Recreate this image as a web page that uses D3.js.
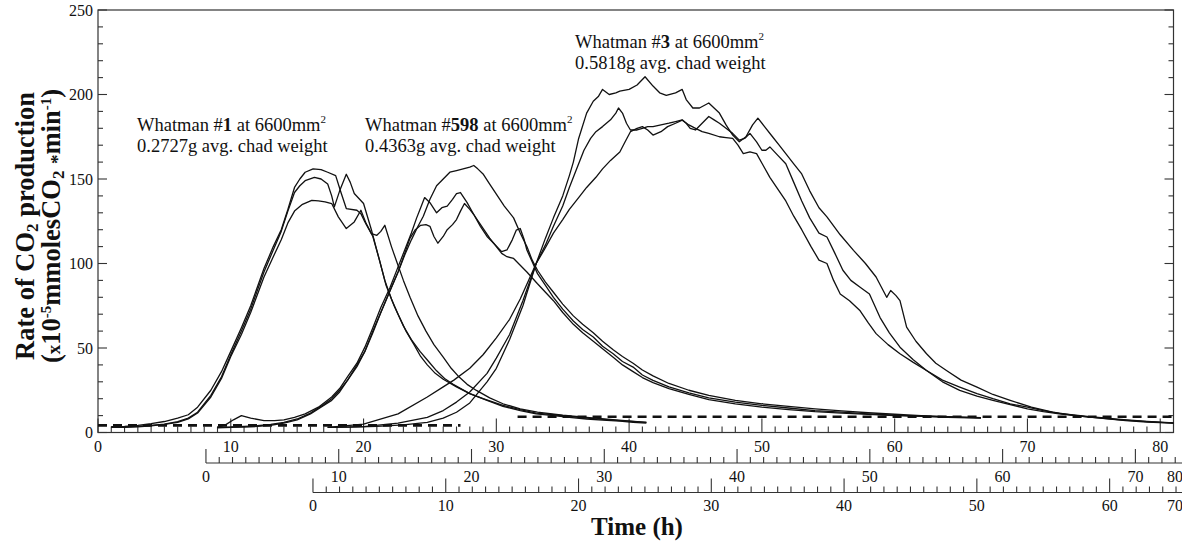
<!DOCTYPE html>
<html><head><meta charset="utf-8">
<script src="https://cdn.jsdelivr.net/npm/d3@7"></script>
<style>
body{margin:0;background:#fff}
svg{display:block}
text{font-family:"Liberation Serif","Times New Roman",serif;fill:#111}
</style>
</head><body><svg id="c" width="1182" height="545"></svg>
<script>
// ---- data: [time on top axis (h), CO2 rate] ----
const w1a = [[1.0,3.5],[2,3.6],[3,4.2],[4,5.2],[5,6.5],[6,8.5],[6.8,10.5],[7.5,15],[8.5,25],[9.3,36],[10,48],[10.8,62],[11.5,75],[12.5,97],[13.2,110],[13.8,120],[14.3,132],[14.8,145],[15.2,150],[15.6,154],[16.2,156],[16.8,155.5],[17.3,154],[17.9,152],[18.3,142],[18.7,132.5],[19.5,131.5],[19.8,129.5],[20.1,124.6],[20.7,116],[21.2,102],[21.7,87],[22.3,75],[23,63],[23.6,55],[24.25,48],[24.9,42],[25.5,36.5],[26.1,32],[26.75,28.5],[28,23],[29.3,19],[30.5,15.5],[31.8,13],[33,11],[34.3,10],[35.5,9],[36.8,8],[38,7.3],[39.3,6.7],[40.3,6],[41.3,5.5]];
const w1b = [[1.0,3.2],[2,3.3],[3,3.6],[4,4.2],[5,5],[6,6.5],[6.8,8.5],[7.5,12],[8.5,22],[9.3,33],[10,46],[10.8,60],[11.5,73],[12.5,95],[13.2,108],[13.8,119],[14.3,131],[14.8,142],[15.2,146],[15.6,149],[16.3,151],[16.8,150],[17.3,147],[17.6,140],[17.8,133.5],[18.2,143],[18.7,152.8],[19.0,148],[19.3,141.4],[20,135.5],[20.6,119.7],[21,107.8],[21.6,90],[22.1,79],[22.6,70],[23.2,60],[23.8,52],[24.3,45],[24.8,40],[25.4,35],[26,31.5],[27,27],[28,23],[29,20],[30.5,16],[31.8,13.5],[33,11.5],[34.3,10.5],[36.8,8.5],[39.3,7],[41.3,6]];
const w1c = [[1.0,3],[2,3],[3,3.4],[4,4],[5,4.8],[6,6],[6.8,8],[7.5,11.5],[8.5,21],[9.3,32],[10,45],[10.8,58],[11.5,71],[12.5,92],[13.2,104],[13.8,114],[14.3,124],[14.8,131],[15.4,135],[16.1,137.4],[16.6,137],[17.1,136.5],[17.6,135.5],[18.1,127.6],[18.7,120.7],[19.3,124.6],[19.8,131.5],[20.2,123.6],[20.6,117.7],[21,116.7],[21.3,119],[21.6,122.6],[22.1,110],[22.5,101],[23,90],[23.5,80],[24.1,69],[24.7,60],[25.3,52],[26,44.6],[26.6,38],[27.2,32.8],[27.8,28.5],[28.5,24.9],[29.5,20.5],[30.5,17],[31.8,14],[33.1,12],[35,10.2],[36.8,9],[39,7.5],[41.3,6]];

const w598a = [[9.0,3],[9.6,4.5],[10.2,7.5],[10.8,10],[11.5,8.5],[12.5,7],[13.3,7],[14,7.5],[14.8,9],[15.6,11],[16.6,15],[17.6,21],[18.2,26],[18.8,33],[19.5,41],[20.1,50.5],[20.7,62],[21.3,74],[22,86],[22.6,98],[23.1,108],[23.6,118],[24,127],[24.3,133],[24.6,139],[25,136],[25.5,130],[25.9,133],[26.3,134],[26.7,138],[27,141.4],[27.3,142],[27.8,136],[28.3,129],[28.8,122],[29.3,116],[29.8,112],[30.4,107],[30.8,108],[31.2,114],[31.5,119.7],[31.8,120.7],[32.1,114],[32.3,108],[32.7,101],[33.1,94],[33.7,87],[34.3,80],[35,73],[35.8,66],[36.5,61],[37.3,56.5],[38,51],[38.8,46.6],[39.5,42],[40.3,38.7],[41,34],[41.8,30.8],[43,27],[44.5,23.5],[46,20.5],[48,18],[50,16],[52,14.5],[54,13],[56,12],[58,11],[60,10.3],[62,9.7],[64,9.2],[66.5,8.7]];
const w598b = [[9.0,3.2],[10,3.3],[11,3.6],[12,4],[13,4.8],[14,6],[15,8],[16,11.5],[17,16.5],[17.6,20],[18.2,25],[18.8,31],[19.5,40],[20.1,48],[20.7,60],[21.3,71],[22,84],[22.6,95],[23.1,105],[23.6,114],[24.1,122],[24.5,128],[25,138],[25.5,146],[26,150],[26.5,154],[27,155],[27.5,156],[28,157],[28.3,158],[28.6,156],[29,153],[29.5,147],[30,141],[30.6,134],[31.3,127],[31.8,118],[32.3,110],[32.7,102],[33.1,96],[33.7,89],[34.3,83],[35,76],[35.8,69],[36.5,64],[37.3,59],[38,54],[38.8,49],[39.5,45],[40.3,41],[41,37],[41.8,33.5],[43,29],[44.5,25],[46,22],[48,19],[50,17],[52,15.5],[54,14],[56,12.8],[58,11.7],[60,10.8],[62,10],[64,9.4],[66.5,8.8]];
const w598c = [[9.0,2.8],[10,3],[11,3.2],[12,3.6],[13,4.3],[14,5.5],[15,7.5],[16,11],[17,16],[17.6,19],[18.2,24],[18.8,31],[19.5,39],[20.1,48],[20.7,59],[21.3,71],[22,84],[22.6,95],[23.1,106],[23.5,115],[23.9,120],[24.3,122.6],[24.7,123],[25.0,122],[25.3,116],[25.6,112],[26,116],[26.3,120],[26.7,123],[27,126],[27.3,131],[27.6,135.5],[28,132],[28.3,129],[28.9,122],[29.5,115],[30.0,110],[30.4,106],[30.8,104],[31.3,103],[31.8,99],[32.3,95],[33.1,88],[33.7,83],[34.3,78],[35,71],[35.8,64],[36.5,59],[37.3,54],[38,49.5],[38.8,44.5],[39.5,40],[40.3,36],[41,32.5],[41.8,29.5],[43,26],[44.5,22.5],[46,19.5],[48,17],[50,15],[52,13.5],[54,12.3],[56,11.5],[58,10.7],[60,10],[62,9.5],[64,9],[66.5,8.5]];

const w3a = [[17.3,3],[19,3.2],[21,3.6],[23,4.5],[24.8,6],[26,8.5],[27,12],[28,17.5],[29.3,30],[30,38],[31,55],[32,75],[33,100],[33.7,115],[34.3,127],[35,140],[35.5,152],[35.8,160],[36.2,174],[36.8,189],[37.3,196],[37.7,199],[38,203],[38.5,200],[39,201],[39.3,202],[40,203],[40.6,205.6],[41.2,210.5],[41.8,205],[42.3,201],[42.8,199.5],[43.5,201],[44,203],[44.3,197],[44.8,192],[45.3,192],[46,195],[46.8,189],[47.3,182],[47.8,176],[48.3,172],[48.8,175],[49.3,182],[49.7,186],[50.2,181],[50.8,175],[51.3,170],[51.8,165],[52.4,159],[53,153],[53.6,143],[54.3,133],[54.9,127.6],[55.9,117],[56.9,107.8],[57.8,100],[58.6,92],[59.4,80],[59.7,84],[60.1,81],[60.4,78],[60.9,62.4],[61.6,54],[62.4,46.6],[63.1,41],[63.9,36.7],[65,31],[66.2,26.9],[67.4,22.5],[68.7,19],[70.3,15],[71.9,12],[73.4,10.2],[74.9,9],[77.4,7],[79,6.2],[81,5.5]];
const w3b = [[17.3,3],[20,3.5],[22.6,5.5],[24.8,9],[26,13],[27,18],[28,24],[29.3,35],[30,44],[31,58],[32,78],[33,100],[33.7,111],[34.3,122],[35,134],[35.5,145],[36,155],[36.6,167],[37.1,174],[37.5,178],[38,181],[38.6,185],[39,189],[39.2,192],[39.5,189],[39.8,183],[40.1,179],[40.6,179],[41,180],[41.4,181],[41.8,181],[42.4,182],[43,183],[43.5,184],[44,185],[44.3,183],[44.6,180],[45,179],[45.5,183],[46,187],[46.4,185],[46.8,183],[47.3,180],[47.8,177],[48.3,173],[48.7,174],[49.1,177],[49.6,172],[50.0,167],[50.3,167],[50.6,169],[51.2,164],[51.8,159],[52.4,148],[53,137],[53.6,127],[54.3,118],[54.9,115.7],[55.5,106],[56.1,96],[56.7,90],[57.4,86],[58.1,82],[58.9,68],[59.6,59],[60.4,50.5],[61.4,43],[62.4,36.7],[63.6,31],[64.9,26.9],[66.2,23],[67.4,20],[68.7,17],[70,15],[71.2,13],[72.4,11.3],[74.5,9.5],[77,7.8],[79,6.6],[81,5.7]];
const w3c = [[17.3,3],[20,5],[22.6,11],[24.8,21],[26,27],[26.8,31],[28,38],[29,46],[30,56],[31,67],[31.8,79],[33,100],[33.6,108],[34.3,118],[35,126],[35.5,132],[36.2,139],[36.8,145],[37.5,151],[38,156],[38.6,161],[39.3,166],[39.7,172],[40.1,178],[40.6,180],[41,181],[41.4,179],[41.8,176],[42.4,178],[42.9,181],[43.5,183],[44,184.8],[44.5,182],[45,180],[45.5,178],[46,177],[46.8,175],[47.3,174.5],[47.8,174],[48.2,170],[48.6,165],[49.1,166],[49.6,165],[50.1,158],[50.6,151],[51.2,144],[51.8,137],[52.4,128],[53,120],[53.7,110],[54.3,102],[54.9,100],[55.4,90],[55.9,82],[56.6,78],[57.4,72],[58,65],[58.6,58.5],[59.5,52],[60.4,46.6],[61.4,41.5],[62.4,36.7],[63.6,30],[64.9,24.9],[66.2,21.5],[67.4,19],[68.7,16.5],[70,14],[71.2,12.3],[72.4,11],[74.5,9.2],[77,7.5],[79,6.4],[81,5.5]];

// dashed baselines
const baseStart = [0, 31.6];
const baseEnd = [27.3, 81];
const baseValue = [4.2, 9.3];

// axes
const yMajor = [0, 50, 100, 150, 200, 250];
const xMainLabels = [0, 10, 20, 30, 40, 50, 60, 70, 80];
const x2Labels = [0, 10, 20, 30, 40, 50, 60, 70, 80];
const x3Labels = [0, 10, 20, 30, 40, 50, 60, 70];
const axis2Offset = 8.13;   // h on top axis where 2nd axis starts
const axis3Offset = 16.19;  // h on top axis where 3rd axis starts

const series = [w1a, w1b, w1c, w598a, w598b, w598c, w3a, w3b, w3c];

// ---- drawing ----
const svg = d3.select("#c");
const W = 1182;
const x = d3.scaleLinear().domain([0, 81]).range([98, 1173.5]);
const y = d3.scaleLinear().domain([0, 250]).range([432.5, 10]);
const x2 = d3.scaleLinear().domain([0, 73.5]).range([x(axis2Offset), x(axis2Offset + 73.5)]);
const x3 = d3.scaleLinear().domain([0, 65.4]).range([x(axis3Offset), x(axis3Offset + 65.4)]);
const axisColor = "#333";

// frame
svg.append("rect").attr("x", x(0)).attr("y", y(250)).attr("width", x(81) - x(0)).attr("height", y(0) - y(250))
  .attr("fill", "none").attr("stroke", axisColor).attr("stroke-width", 1.2);

// y ticks left and right
const yMinor = d3.range(0, 251, 10);
const yTickG = svg.append("g").attr("stroke", axisColor).attr("stroke-width", 1.1);
yMinor.forEach(v => {
  const len = yMajor.includes(v) ? 9 : 5;
  yTickG.append("line").attr("x1", x(0)).attr("x2", x(0) + len).attr("y1", y(v)).attr("y2", y(v));
  yTickG.append("line").attr("x1", x(81)).attr("x2", x(81) - len).attr("y1", y(v)).attr("y2", y(v));
});
svg.append("g").selectAll("text").data(yMajor).join("text")
  .attr("x", x(0) - 5).attr("y", d => y(d)).attr("dy", "0.35em").attr("text-anchor", "end")
  .attr("font-size", 16).text(d => d);

// horizontal axes helper
function hAxis(scale, lineY, minorVals, majorVals, labels, xStart, xEnd, labelBaseline) {
  const g = svg.append("g").attr("stroke", axisColor).attr("stroke-width", 1.1);
  g.append("line").attr("x1", xStart).attr("x2", xEnd).attr("y1", lineY).attr("y2", lineY).attr("stroke-width", 1.2);
  minorVals.forEach(v => {
    const len = majorVals.includes(v) ? 14 : 6;
    g.append("line").attr("x1", scale(v)).attr("x2", scale(v)).attr("y1", lineY).attr("y2", lineY - len);
  });
  svg.append("g").selectAll("text").data(labels).join("text")
    .attr("x", d => Math.min(scale(d), 1175)).attr("y", labelBaseline)
    .attr("text-anchor", "middle").attr("font-size", 16).text(d => d);
}
hAxis(x, y(0), d3.range(0, 81, 1), xMainLabels, xMainLabels, x(0), x(81), 452);
hAxis(x2, 463, d3.range(0, 74, 1), [0,10,20,30,40,50,60,70], x2Labels, x2(0), W, 482);
hAxis(x3, 492.5, d3.range(0, 66, 1), [0,10,20,30,40,50,60], x3Labels, x3(0), W, 511);

// dashed baselines
svg.append("g").selectAll("line").data(baseValue).join("line")
  .attr("x1", (d, i) => x(baseStart[i])).attr("x2", (d, i) => x(baseEnd[i]))
  .attr("y1", d => y(d)).attr("y2", d => y(d))
  .attr("stroke", "#111").attr("stroke-width", 2.6).attr("stroke-dasharray", "9,6");

// curves
const line = d3.line().x(d => x(d[0])).y(d => y(d[1]));
svg.append("g").selectAll("path").data(series).join("path")
  .attr("d", line).attr("fill", "none").attr("stroke", "#111").attr("stroke-width", 1.3)
  .attr("stroke-linejoin", "round");

// annotations
function note(px, py, id, weight) {
  const t = svg.append("text").attr("x", px).attr("y", py).attr("font-size", 18.5);
  t.append("tspan").text("Whatman #");
  t.append("tspan").attr("font-weight", "bold").text(id);
  t.append("tspan").text(" at 6600mm");
  t.append("tspan").attr("font-size", 11).attr("dy", -8).text("2");
  const t2 = svg.append("text").attr("x", px).attr("y", py + 21).attr("font-size", 18.5);
  t2.text(weight + " avg. chad weight");
}
note(137, 131, "1", "0.2727g");
note(365, 131, "598", "0.4363g");
note(575, 48, "3", "0.5818g");

// y title
const yt = svg.append("g").attr("transform", "translate(0,226) rotate(-90)");
const l1 = yt.append("text").attr("x", 0).attr("y", 34).attr("text-anchor", "middle")
  .attr("font-size", 26.5).attr("font-weight", "bold");
l1.append("tspan").text("Rate of CO");
l1.append("tspan").attr("font-size", 17).attr("dy", 4).text("2");
l1.append("tspan").attr("dy", -4).text(" production");
const l2 = yt.append("text").attr("x", 0).attr("y", 60).attr("text-anchor", "middle")
  .attr("font-size", 26.5).attr("font-weight", "bold");
l2.append("tspan").text("(");
l2.append("tspan").attr("font-size", 19).text("x");
l2.append("tspan").text("10");
l2.append("tspan").attr("font-size", 15).attr("dy", -9).text("-5");
l2.append("tspan").attr("dy", 9).text("mmolesCO");
l2.append("tspan").attr("font-size", 17).attr("dy", 4).text("2");
l2.append("tspan").attr("dy", 0).text(" ");
l2.append("tspan").attr("font-size", 19).text("*");
l2.append("tspan").attr("dy", -4).text("min");
l2.append("tspan").attr("font-size", 15).attr("dy", -9).text("-1");
l2.append("tspan").attr("dy", 9).text(")");

// x title
svg.append("text").attr("x", 637).attr("y", 535).attr("text-anchor", "middle")
  .attr("font-size", 25).attr("font-weight", "bold").text("Time (h)");
</script>
</body></html>
